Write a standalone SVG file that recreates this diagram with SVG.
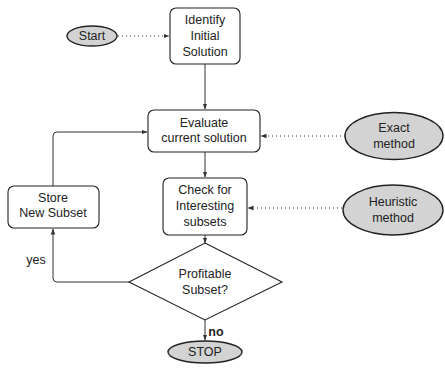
<svg xmlns="http://www.w3.org/2000/svg" width="445" height="369" viewBox="0 0 445 369">
<defs>
<style>
text{font-family:"Liberation Sans","DejaVu Sans",sans-serif;font-size:12.5px;fill:#222;text-anchor:middle;dominant-baseline:central}
.box{fill:#fff;stroke:#222;stroke-width:1.1}
.oval{fill:#d3d3d3;stroke:#222;stroke-width:1.4}
.c{fill:none;stroke:#333;stroke-width:1}
.d{fill:none;stroke:#333;stroke-width:1;stroke-dasharray:1 3}
</style>
<marker id="ah" viewBox="0 0 6 6" refX="5.5" refY="3" markerWidth="6" markerHeight="6" markerUnits="userSpaceOnUse" orient="auto">
<path d="M0,0.8 L6,3 L0,5.2 Z" fill="#333"/>
</marker>
</defs>
<rect width="445" height="369" fill="#fff"/>
<g id="connectors">
<line class="d" x1="118" y1="36" x2="169" y2="36" marker-end="url(#ah)"/>
<line class="c" x1="205" y1="64" x2="205" y2="109" marker-end="url(#ah)"/>
<line class="c" x1="205" y1="152" x2="205" y2="177" marker-end="url(#ah)"/>
<line class="c" x1="205" y1="235" x2="205" y2="243" marker-end="url(#ah)"/>
<line class="c" x1="205" y1="320" x2="205" y2="340" marker-end="url(#ah)"/>
<line class="d" x1="345" y1="136" x2="261" y2="136" marker-end="url(#ah)"/>
<line class="d" x1="342" y1="208" x2="248" y2="208" marker-end="url(#ah)"/>
<path class="c" d="M53,186 V136 Q53,132 57,132 H147" marker-end="url(#ah)"/>
<path class="c" d="M129,282 H57 Q53,282 53,278 V229" marker-end="url(#ah)"/>
<text x="36" y="260">yes</text>
<text x="216" y="332" style="font-weight:bold">no</text>
</g>
<g id="start">
<ellipse class="oval" cx="92" cy="36" rx="25" ry="10"/>
<text x="92" y="36">Start</text>
</g>
<g id="identify">
<rect class="box" x="170" y="8" width="70" height="56" rx="6"/>
<text x="205" y="20">Identify</text>
<text x="205" y="36">Initial</text>
<text x="205" y="52">Solution</text>
</g>
<g id="evaluate">
<rect class="box" x="148" y="110" width="112" height="42" rx="6"/>
<text x="204" y="123">Evaluate</text>
<text x="204" y="138">current solution</text>
</g>
<g id="check">
<rect class="box" x="163" y="178" width="84" height="57" rx="6"/>
<text x="205" y="190">Check for</text>
<text x="205" y="206">Interesting</text>
<text x="205" y="222">subsets</text>
</g>
<g id="store">
<rect class="box" x="8" y="186" width="91" height="42" rx="6"/>
<text x="53" y="198">Store</text>
<text x="53" y="213">New Subset</text>
</g>
<g id="profitable">
<polygon class="box" points="205,243 282,282 205,320 129,282"/>
<text x="205" y="274">Profitable</text>
<text x="205" y="290">Subset?</text>
</g>
<g id="stop">
<ellipse class="oval" cx="205" cy="352" rx="37" ry="11"/>
<text x="205" y="352">STOP</text>
</g>
<g id="exact">
<ellipse class="oval" cx="394" cy="136" rx="49" ry="23.5"/>
<text x="394" y="128">Exact</text>
<text x="394" y="144">method</text>
</g>
<g id="heuristic">
<ellipse class="oval" cx="393" cy="210" rx="50" ry="25"/>
<text x="393" y="202">Heuristic</text>
<text x="393" y="218">method</text>
</g>
</svg>
